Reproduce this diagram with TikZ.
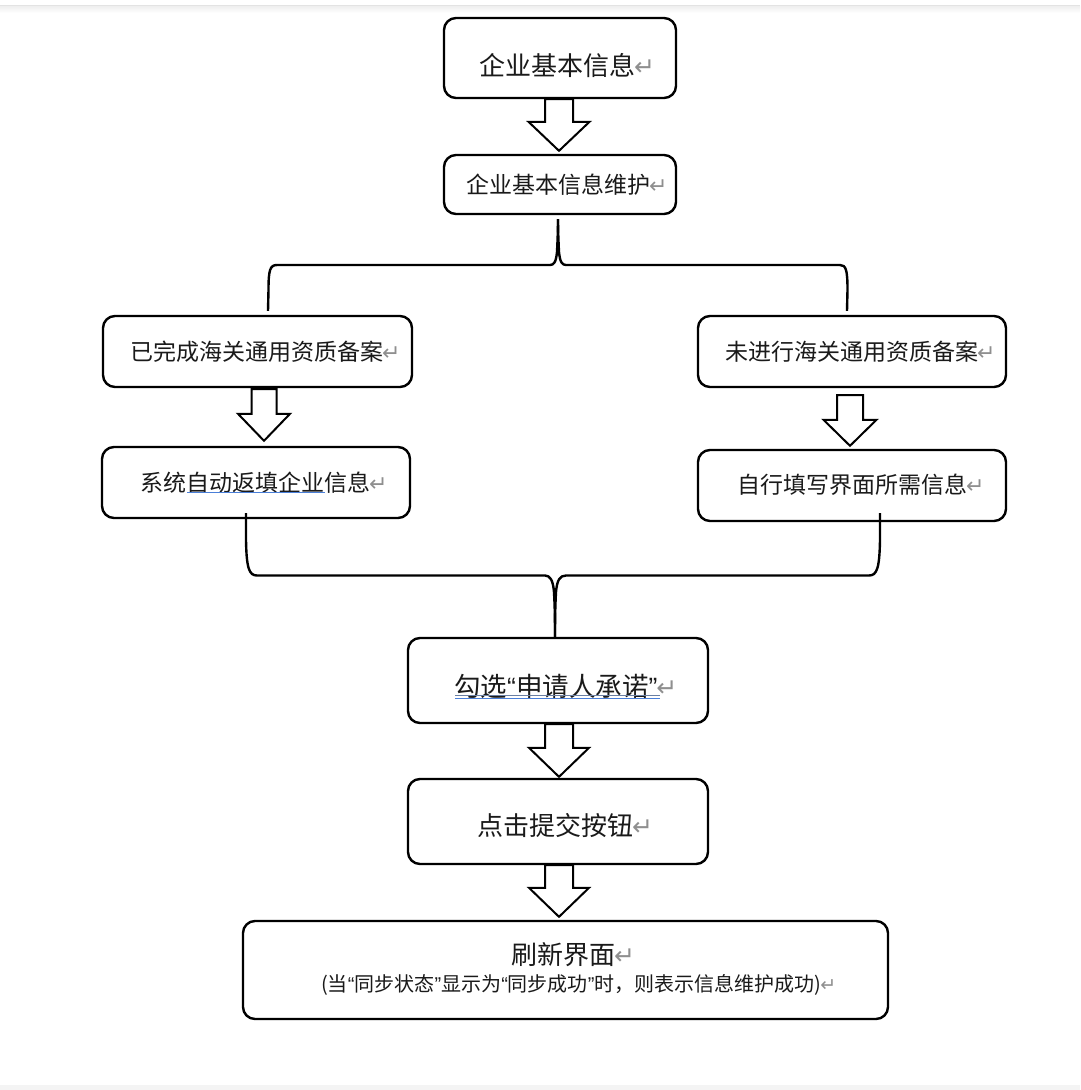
\documentclass[tikz,border=0pt]{standalone}
\usepackage{fontspec}
\newfontfamily\cjk{Noto Sans CJK SC}
\newfontfamily\symf{DejaVu Sans}
\newfontfamily\latq{Liberation Sans}
\usetikzlibrary{calc}
\definecolor{txt}{HTML}{1A1A1A}
\definecolor{retgray}{HTML}{8F8F8F}
\definecolor{ulblue}{HTML}{4A7FD8}
\newcommand\ret[1]{{\symf\fontsize{#1}{#1}\selectfont\color{retgray}\kern-1pt↵}}
\newcommand\myLq{{\latq “}}
\newcommand\myRq{{\latq ”}}
% #1 from node, #2 to node, #3 x offset, #4 top gap, #5 bottom gap, #6 half shaft, #7 half head, #8 head length
\newcommand\blockarrow[8]{%
  \draw[blockarr] let \p1=(#1.south), \p2=(#2.north) in
   ({\x1+(#3pt)-#6pt},{\y1-#4pt}) -- ({\x1+(#3pt)-#6pt},{\y2+#5pt+#8pt}) --
   ({\x1+(#3pt)-#7pt},{\y2+#5pt+#8pt}) -- ({\x1+(#3pt)},{\y2+#5pt}) --
   ({\x1+(#3pt)+#7pt},{\y2+#5pt+#8pt}) -- ({\x1+(#3pt)+#6pt},{\y2+#5pt+#8pt}) --
   ({\x1+(#3pt)+#6pt},{\y1-#4pt}) -- cycle;}
\begin{document}
\begin{tikzpicture}[x=1pt,y=-1pt,
  box/.style={draw=black, line width=2.4pt, rounded corners=12pt, fill=white, inner sep=0},
  lbl/.style={anchor=west, inner sep=0, text=txt},
  lbig/.style={lbl, font=\cjk\fontsize{26}{30}\selectfont},
  lmid/.style={lbl, font=\cjk\fontsize{23}{27}\selectfont},
  lsmall/.style={lbl, font=\cjk\fontsize{20}{24}\selectfont},
  blockarr/.style={draw=black, line width=2pt, fill=white, line join=miter},
  brace/.style={draw=black, line width=2.4pt, line join=round}]
\useasboundingbox (0,0) rectangle (1080,1090);
\fill[white] (0,0) rectangle (1080,1090);
\fill[gray!22] (0,4.5) rectangle (1080,6.5);
\shade[top color=gray!12, bottom color=white] (0,6.5) rectangle (1080,13);
\fill[gray!9] (0,1085) rectangle (1080,1090);

% boxes
\node[box, minimum width=232pt, minimum height=80pt] (b1) at (560,58) {};
\node[box, minimum width=232pt, minimum height=59pt] (b2) at (560,184.5) {};
\node[box, minimum width=309pt, minimum height=71pt] (b3) at (257.5,351.5) {};
\node[box, minimum width=308pt, minimum height=71pt] (b4) at (852,351.5) {};
\node[box, minimum width=308pt, minimum height=71pt] (b5) at (256,482.5) {};
\node[box, minimum width=308pt, minimum height=71pt] (b6) at (852,485.5) {};
\node[box, minimum width=300pt, minimum height=85pt] (b7) at (558,680.5) {};
\node[box, minimum width=300pt, minimum height=85pt] (b8) at (558,821.5) {};
\node[box, minimum width=645pt, minimum height=98pt] (b9) at (565.5,970) {};

% labels
\node[lbig] (t1) at (479,66) {企业基本信息\ret{25}};
\node[lmid] (t2) at (466,185) {企业基本信息维护\ret{22}};
\node[lmid] (t3) at (130,352) {已完成海关通用资质备案\ret{22}};
\node[lmid] (t4) at (725,352) {未进行海关通用资质备案\ret{22}};
\node[lmid] (t5) at (140,483) {系统自动返填企业信息\ret{22}};
\node[lmid] (t6) at (737,485) {自行填写界面所需信息\ret{22}};
\node[lbig, font=\cjk\fontsize{26.5}{30}\selectfont] (t7) at (454,686) {勾选\myLq 申请人承诺\myRq\ret{25}};
\node[lbig] (t8) at (477,826) {点击提交按钮\ret{25}};
\node[lbig] (t9a) at (511,955) {刷新界面\ret{25}};
\node[lsmall] (t9b) at (321,985) {(当\myLq 同步状态\myRq 显示为\myLq 同步成功\myRq 时，则表示信息维护成功)\ret{19}};

% underline marks
\draw[ulblue, line width=1.2pt] (187,492.5) -- (325,492.5);
\draw[gray!60!ulblue, line width=1pt] (455,695.5) -- (660,695.5);
\draw[ulblue, line width=1pt] (455,698) -- (660,698);

% block arrows
\blockarrow{b1}{b2}{-1}{0}{3}{14}{30.5}{29}
\blockarrow{b3}{b5}{6.5}{1}{5}{12.5}{26}{27}
\blockarrow{b4}{b6}{-2}{7}{3}{13}{26.5}{26}
\blockarrow{b7}{b8}{1}{0}{1}{14}{30}{29}
\blockarrow{b8}{b9}{1}{0}{3}{14}{30}{29}

% top brace
\coordinate (tb) at ([xshift=-2pt,yshift=-4pt]b2.south);
\coordinate (tl) at ([xshift=10.5pt,yshift=4pt]b3.north);
\coordinate (tr) at ([xshift=-5pt,yshift=4pt]b4.north);
\draw[brace] (tl) -- (268.5,290) .. controls (268.5,270) and (270,265) .. (277,265)
  -- (550,265) .. controls (554,265) and (556,262) .. (557,252) .. controls (557.6,240) and (558,230) .. (tb);
\draw[brace] (tr) -- (847.5,290) .. controls (847.5,270) and (846,265) .. (840,265)
  -- (566,265) .. controls (562,265) and (560,262) .. (559,252) .. controls (558.4,240) and (558,230) .. (tb);

% bottom brace
\coordinate (bl) at ([xshift=-10pt,yshift=6pt]b5.south);
\coordinate (br) at ([xshift=28pt,yshift=9pt]b6.south);
\coordinate (bc) at ([xshift=-3pt]b7.north);
\draw[brace] (bl) -- (246,540) .. controls (246.5,568) and (249,575.5) .. (257,575.5)
  -- (545,575.5) .. controls (550,575.5) and (553,580) .. (554,592) .. controls (554.7,605) and (555,615) .. (bc);
\draw[brace] (br) -- (880,540) .. controls (879.5,568) and (877,575.5) .. (869,575.5)
  -- (566,575.5) .. controls (560,575.5) and (557,580) .. (556,592) .. controls (555.3,605) and (555,615) .. (bc);
\end{tikzpicture}
\end{document}
